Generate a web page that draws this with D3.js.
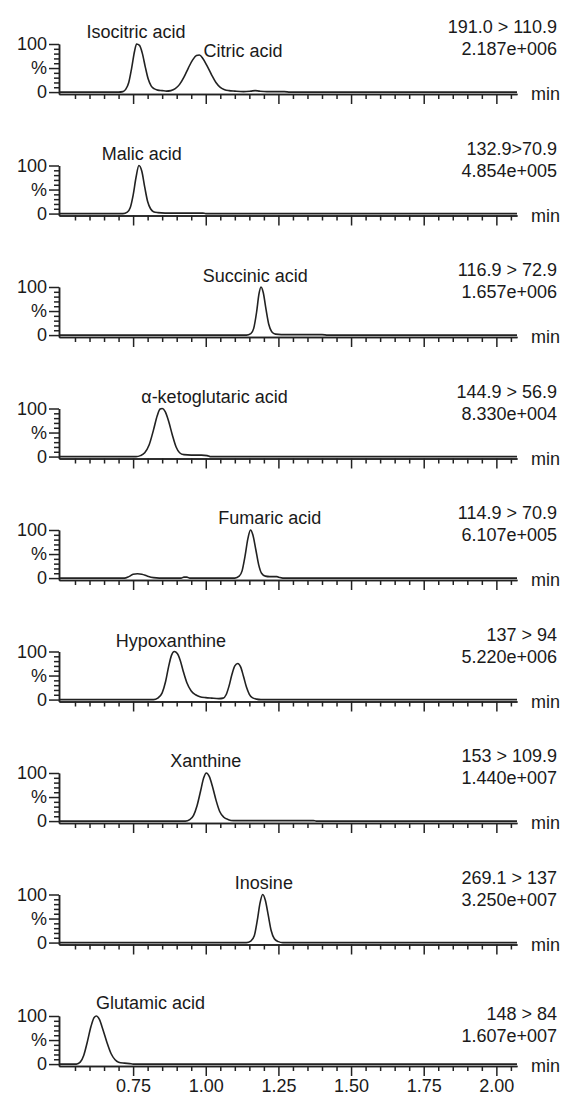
<!DOCTYPE html>
<html>
<head>
<meta charset="utf-8">
<script src="https://cdn.jsdelivr.net/npm/d3@7"></script>
<style>
  body { margin: 0; background: #fff; }
  text { font-family: "Liberation Sans", Arial, sans-serif; fill: #1a1a1a; }
</style>
</head>
<body>
<div class="chart"></div>
<script>
// ---- data (time in min, intensity in %) ----
var compounds = [
  ["Isocitric acid", "Citric acid"], ["Malic acid"], ["Succinic acid"],
  ["\u03b1-ketoglutaric acid"], ["Fumaric acid"], ["Hypoxanthine"],
  ["Xanthine"], ["Inosine"], ["Glutamic acid"]
];
var transitions = ["191.0 > 110.9", "132.9>70.9", "116.9 > 72.9", "144.9 > 56.9",
  "114.9 > 70.9", "137 > 94", "153 > 109.9", "269.1 > 137", "148 > 84"];
var intensities = ["2.187e+006", "4.854e+005", "1.657e+006", "8.330e+004",
  "6.107e+005", "5.220e+006", "1.440e+007", "3.250e+007", "1.607e+007"];

var citricTrace = [[0.495,0],[0.70,0],[0.715,1],[0.725,6],[0.735,20],[0.745,50],[0.755,85],[0.762,100],
  [0.772,97],[0.782,80],[0.792,52],[0.802,27],[0.812,13],[0.822,7],[0.835,4],[0.85,3],[0.865,2],[0.88,3],
  [0.895,7],[0.91,16],[0.925,31],[0.94,50],[0.955,67],[0.968,76],[0.978,77],[0.99,70],[1.005,54],[1.02,36],
  [1.035,20],[1.05,10],[1.065,5],[1.08,3],[1.10,2],[1.13,1],[1.155,2],[1.17,3],[1.185,2],[1.21,1],[1.27,1],
  [1.29,0],[2.071,0]];
var malicTrace = [[0.495,0],[0.715,0],[0.73,3],[0.74,12],[0.75,38],[0.76,75],[0.77,100],[0.78,88],[0.79,55],
  [0.80,25],[0.81,10],[0.82,4],[0.835,2],[0.86,1],[0.99,1],[1.0,0],[2.071,0]];
var succinicTrace = [[0.495,0],[1.14,0],[1.155,3],[1.165,14],[1.175,48],[1.183,85],[1.19,100],[1.198,88],
  [1.207,55],[1.217,22],[1.227,7],[1.24,2],[1.26,1],[1.40,1],[1.42,0],[2.071,0]];
var ketoTrace = [[0.495,0],[0.76,0],[0.775,2],[0.79,8],[0.805,24],[0.82,55],[0.833,85],[0.843,99],[0.85,100],
  [0.86,94],[0.872,74],[0.885,45],[0.898,20],[0.91,8],[0.925,4],[0.95,3],[0.985,3],[1.005,2],[1.015,0],[2.071,0]];
var fumaricTrace = [[0.495,0],[0.72,0],[0.735,3],[0.75,8],[0.765,9],[0.78,8],[0.80,4],[0.82,1],[0.84,0],
  [0.915,0],[0.925,2],[0.935,2],[0.945,0],[1.10,0],[1.115,4],[1.125,15],[1.135,45],[1.145,82],[1.154,100],
  [1.162,90],[1.172,60],[1.182,28],[1.192,10],[1.205,4],[1.22,3],[1.245,3],[1.255,1],[1.265,0],[2.071,0]];
var hypoxanthineTrace = [[0.495,0],[0.82,0],[0.835,3],[0.85,14],[0.862,38],[0.872,68],[0.882,92],[0.892,100],
  [0.902,96],[0.912,82],[0.922,60],[0.935,35],[0.95,18],[0.965,10],[0.98,6],[1.00,4],[1.02,3],[1.045,2],
  [1.06,3],[1.07,10],[1.08,28],[1.09,52],[1.10,70],[1.11,75],[1.12,68],[1.13,48],[1.14,26],[1.15,11],
  [1.16,4],[1.175,1],[1.19,0],[2.071,0]];
var xanthineTrace = [[0.495,0],[0.93,0],[0.945,3],[0.958,12],[0.97,32],[0.982,62],[0.993,90],[1.002,100],
  [1.012,93],[1.024,70],[1.036,42],[1.048,20],[1.062,8],[1.078,3],[1.095,1],[1.37,1],[1.38,0],[2.071,0]];
var inosineTrace = [[0.495,0],[1.14,0],[1.155,3],[1.167,14],[1.177,45],[1.187,83],[1.196,100],[1.205,88],
  [1.215,57],[1.225,25],[1.236,8],[1.25,2],[1.265,0],[2.071,0]];
var glutamicTrace = [[0.495,0],[0.555,0],[0.568,4],[0.58,18],[0.592,45],[0.605,78],[0.616,97],[0.624,100],
  [0.634,93],[0.646,72],[0.66,45],[0.674,22],[0.688,9],[0.70,4],[0.72,2],[0.738,1],[0.75,0],[2.071,0]];

var traces = [citricTrace, malicTrace, succinicTrace, ketoTrace, fumaricTrace,
  hypoxanthineTrace, xanthineTrace, inosineTrace, glutamicTrace];

var xTicks = d3.range(11, 42).map(function(i) { return Math.round(i * 5) / 100; });
var xMajor = [0.75, 1.00, 1.25, 1.50, 1.75, 2.00];

// ---- layout (label anchors: time, offset above the axis) ----
var labelPos = [[[0.76, -56], [1.128, -37]], [[0.78, -56]], [[1.17, -55]], [[1.03, -56]],
  [[1.22, -56]], [[0.88, -55]], [[1.0, -56]], [[1.2, -56]], [[0.81, -57]]];
var rightPos = [[-61, -39], [-61, -39], [-61, -39], [-61, -39], [-61, -39],
  [-61, -39], [-61, -39], [-61, -39], [-46, -24]];

var svgWidth = 563;
var svgHeight = 1097;
var firstBase = 94;
var panelStep = 121.5;
var plotH = 50;

var svg = d3.select(".chart")
  .append("svg")
  .attr("width", svgWidth)
  .attr("height", svgHeight);

svg.append("rect").attr("width", svgWidth).attr("height", svgHeight).attr("fill", "#fff");

var x = d3.scaleLinear().domain([0.495, 2.071]).range([59, 517]);

traces.forEach(function(trace, i) {
  var base = firstBase + i * panelStep;
  var y = d3.scaleLinear().domain([-4, 100]).range([base, base - plotH]);
  var g = svg.append("g");

  // x axis: minor then major ticks
  var xMinorAxis = d3.axisBottom(x)
    .tickValues(xTicks.filter(function(d) { return xMajor.indexOf(d) < 0; }))
    .tickSize(5).tickSizeOuter(0).tickFormat("");
  var xMajorAxis = d3.axisBottom(x)
    .tickValues(xMajor).tickSize(10).tickSizeOuter(0).tickPadding(3)
    .tickFormat(i === traces.length - 1 ? d3.format(".2f") : "");

  [xMinorAxis, xMajorAxis].forEach(function(ax) {
    var a = g.append("g").attr("transform", "translate(0," + base + ")").call(ax);
    a.selectAll("path, line").attr("stroke", "#222").attr("stroke-width", 1.5);
    a.selectAll("text").style("font-size", "18px").attr("fill", "#1a1a1a")
      .style("font-family", "'Liberation Sans', Arial, sans-serif");
  });

  // y axis ruler
  var yMinorAxis = d3.axisLeft(y).tickValues(d3.range(10, 100, 10).filter(function(d) { return d !== 50; }))
    .tickSize(5).tickSizeOuter(0).tickFormat("");
  var yMajorAxis = d3.axisLeft(y).tickValues([0, 50, 100]).tickSize(10).tickSizeOuter(0).tickPadding(2)
    .tickFormat(function(d) { return d === 50 ? "%" : d; });

  [yMinorAxis, yMajorAxis].forEach(function(ax) {
    var a = g.append("g").attr("transform", "translate(" + x.range()[0] + ",0)").call(ax);
    a.selectAll("path, line").attr("stroke", "#222").attr("stroke-width", 1.5);
    a.selectAll("text").style("font-size", "18px").attr("fill", "#1a1a1a")
      .style("font-family", "'Liberation Sans', Arial, sans-serif");
  });

  // chromatogram trace
  var line = d3.line()
    .x(function(d) { return x(d[0]); })
    .y(function(d) { return y(d[1]); })
    .curve(d3.curveMonotoneX);

  g.append("path")
    .datum(trace)
    .attr("d", line)
    .attr("fill", "none")
    .attr("stroke", "#222")
    .attr("stroke-width", 1.6);

  // compound names
  compounds[i].forEach(function(name, k) {
    g.append("text")
      .attr("x", x(labelPos[i][k][0]))
      .attr("y", base + labelPos[i][k][1])
      .attr("text-anchor", "middle")
      .style("font-size", "18px")
      .text(name);
  });

  // transition and intensity
  g.append("text").attr("x", 557).attr("y", base + rightPos[i][0])
    .attr("text-anchor", "end").style("font-size", "18px").text(transitions[i]);
  g.append("text").attr("x", 557).attr("y", base + rightPos[i][1])
    .attr("text-anchor", "end").style("font-size", "18px").text(intensities[i]);

  g.append("text").attr("x", 531).attr("y", base + 6)
    .style("font-size", "18px").text("min");
});
</script>
</body>
</html>
